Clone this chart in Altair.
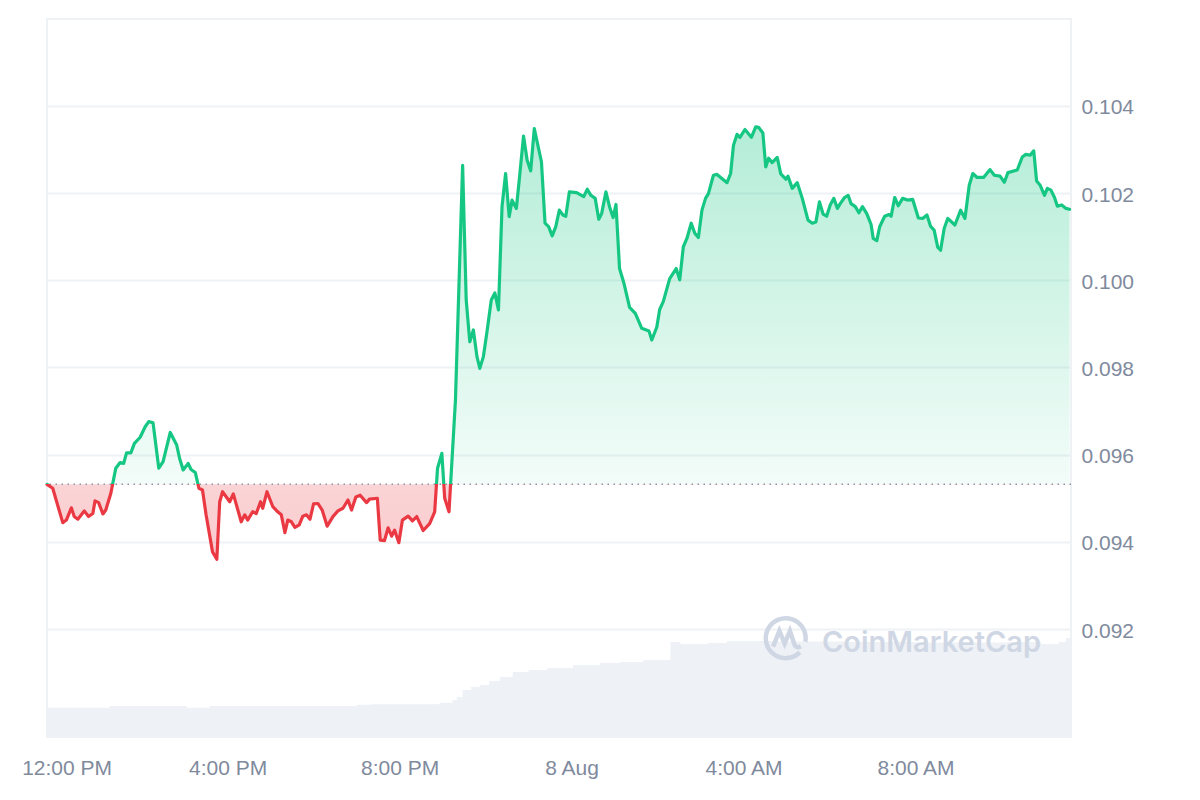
import altair as alt
import pandas as pd

# ---------------- data ----------------
BASELINE = 0.09532  # price at the start of the window (dotted reference line)

# minutes relative to 7 Aug 12:00 PM
minutes = [
    -12, -4, 10, 15, 22, 26, 31, 40, 46, 52,
    55, 60, 66, 70, 77, 84, 90, 95, 99, 105,
    110, 118, 125, 130, 136, 144, 150, 160, 169, 173,
    178, 185, 189, 195, 200, 205, 210, 219, 225, 229,
    233, 243, 248, 259, 264, 268, 275, 280, 286, 289,
    295, 303, 310, 315, 320, 324, 329, 334, 340, 345,
    350, 355, 360, 366, 372, 379, 387, 394, 401, 408,
    413, 419, 425, 434, 438, 449, 453, 459, 464, 469,
    473, 479, 484, 492, 498, 504, 513, 522, 529, 533,
    539, 543, 549, 558, 568, 573, 578, 583, 588, 592,
    597, 602, 608, 613, 618, 623, 628, 633, 637, 643,
    647, 653, 658, 663, 668, 678, 683, 688, 693, 698,
    703, 708, 712, 717, 727, 737, 742, 747, 753, 758,
    762, 768, 773, 778, 782, 787, 793, 801, 809, 818,
    828, 832, 839, 843, 848, 857, 866, 871, 876, 881,
    887, 892, 897, 902, 907, 911, 918, 923, 937, 942,
    946, 951, 955, 962, 971, 977, 981, 987, 991, 995,
    1000, 1007, 1012, 1019, 1022, 1028, 1035, 1042, 1050, 1056,
    1061, 1066, 1071, 1076, 1081, 1086, 1091, 1095, 1101, 1106,
    1110, 1116, 1121, 1126, 1132, 1138, 1141, 1146, 1150, 1157,
    1163, 1166, 1171, 1176, 1182, 1189, 1196, 1204, 1210, 1216,
    1221, 1226, 1231, 1235, 1240, 1245, 1255, 1263, 1269, 1275,
    1280, 1286, 1295, 1304, 1310, 1318, 1324, 1329, 1342, 1349,
    1354, 1360, 1365, 1369, 1374, 1380, 1384, 1389, 1394, 1398,
    1404, 1410, 1415,
]

prices = [
    0.09532, 0.09523, 0.09444, 0.09450, 0.09478, 0.09458, 0.09452, 0.09471, 0.09458, 0.09465,
    0.09494, 0.09490, 0.09464, 0.09473, 0.09511, 0.09569, 0.09582, 0.09580, 0.09604, 0.09604,
    0.09626, 0.09640, 0.09664, 0.09676, 0.09673, 0.09569, 0.09584, 0.09651, 0.09622, 0.09592,
    0.09565, 0.09580, 0.09566, 0.09559, 0.09523, 0.09519, 0.09462, 0.09377, 0.09360, 0.09492,
    0.09515, 0.09492, 0.09510, 0.09446, 0.09462, 0.09450, 0.09469, 0.09465, 0.09492, 0.09477,
    0.09515, 0.09481, 0.09469, 0.09462, 0.09421, 0.09450, 0.09446, 0.09433, 0.09439, 0.09459,
    0.09462, 0.09452, 0.09487, 0.09488, 0.09473, 0.09436, 0.09458, 0.09471, 0.09477, 0.09496,
    0.09473, 0.09503, 0.09507, 0.09490, 0.09498, 0.09500, 0.09404, 0.09403, 0.09432, 0.09413,
    0.09427, 0.09398, 0.09450, 0.09459, 0.09448, 0.09458, 0.09426, 0.09442, 0.09469, 0.09569,
    0.09603, 0.09500, 0.09469, 0.09725, 0.10264, 0.09955, 0.09859, 0.09886, 0.09825, 0.09798,
    0.09825, 0.09882, 0.09955, 0.09971, 0.09932, 0.10169, 0.10245, 0.10146, 0.10184, 0.10165,
    0.10230, 0.10331, 0.10276, 0.10251, 0.10348, 0.10272, 0.10131, 0.10123, 0.10102, 0.10123,
    0.10161, 0.10150, 0.10147, 0.10203, 0.10201, 0.10192, 0.10209, 0.10195, 0.10188, 0.10140,
    0.10153, 0.10203, 0.10169, 0.10144, 0.10174, 0.10027, 0.09994, 0.09938, 0.09924, 0.09890,
    0.09884, 0.09863, 0.09893, 0.09933, 0.09951, 0.10004, 0.10027, 0.10001, 0.10077, 0.10096,
    0.10131, 0.10108, 0.10098, 0.10161, 0.10188, 0.10199, 0.10241, 0.10243, 0.10224, 0.10245,
    0.10310, 0.10335, 0.10328, 0.10346, 0.10328, 0.10352, 0.10351, 0.10338, 0.10260, 0.10280,
    0.10270, 0.10282, 0.10244, 0.10232, 0.10239, 0.10211, 0.10224, 0.10188, 0.10138, 0.10131,
    0.10134, 0.10180, 0.10152, 0.10147, 0.10173, 0.10188, 0.10165, 0.10176, 0.10190, 0.10195,
    0.10176, 0.10169, 0.10155, 0.10169, 0.10153, 0.10128, 0.10096, 0.10091, 0.10123, 0.10147,
    0.10151, 0.10147, 0.10190, 0.10171, 0.10188, 0.10184, 0.10186, 0.10143, 0.10142, 0.10150,
    0.10124, 0.10115, 0.10076, 0.10069, 0.10119, 0.10142, 0.10127, 0.10161, 0.10142, 0.10218,
    0.10245, 0.10236, 0.10236, 0.10254, 0.10241, 0.10239, 0.10225, 0.10247, 0.10253, 0.10283,
    0.10289, 0.10287, 0.10297, 0.10228, 0.10218, 0.10195, 0.10211, 0.10207, 0.10190, 0.10170,
    0.10173, 0.10165, 0.10163,
]

# volume levels (arbitrary units, millions) at step breakpoints
vol_minutes = [-12, 75, 183, 215, 420, 440, 536, 554, 560, 568, 580, 592, 605, 620, 638,
               660, 686, 722, 760, 788, 820, 858, 872, 910, 937, 1000, 1100, 1200, 1330,
               1375, 1400, 1410, 1417]
vol_values = [2.93, 3.10, 2.93, 3.10, 3.23, 3.27, 3.43, 3.70, 4.00, 4.70, 5.00, 5.20, 5.60,
              6.00, 6.50, 6.70, 6.90, 7.20, 7.40, 7.50, 7.70, 9.50, 9.30, 9.40, 9.60, 9.55,
              9.50, 9.45, 9.50, 9.30, 9.50, 9.90, 10.00]

x_tick_minutes = [0, 240, 480, 720, 960, 1200]
y_ticks = [0.092, 0.094, 0.096, 0.098, 0.100, 0.102, 0.104]
watermark = ["CoinMarketCap"]

# ---------------- tables ----------------
T0 = pd.Timestamp("2024-08-07 12:00:00")
price_df = pd.DataFrame({"time": T0 + pd.to_timedelta(minutes, unit="m"), "price": prices})
price_df["base"] = BASELINE
vol_df = pd.DataFrame({"time": T0 + pd.to_timedelta(vol_minutes, unit="m"), "volume": vol_values})
rule_df = pd.DataFrame({"base": [BASELINE]})
wm_df = pd.DataFrame({"label": watermark})


def dt(m):
    ts = T0 + pd.Timedelta(minutes=m)
    return alt.DateTime(year=ts.year, month=ts.month, date=ts.day, hours=ts.hour, minutes=ts.minute)


GREEN = "#16C784"
RED = "#EA3943"
LABEL = "#808A9D"
GRID = "#EFF2F5"
FONT = "Liberation Sans"

pmax, pmin = max(prices), min(prices)
t = (pmax - BASELINE) / (pmax - pmin)

line_grad = alt.Gradient(
    gradient="linear", x1=0, x2=0, y1=0, y2=1,
    stops=[alt.GradientStop(color=GREEN, offset=0), alt.GradientStop(color=GREEN, offset=t),
           alt.GradientStop(color=RED, offset=t), alt.GradientStop(color=RED, offset=1)],
)
area_grad = alt.Gradient(
    gradient="linear", x1=0, x2=0, y1=0, y2=1,
    stops=[alt.GradientStop(color="rgba(22,199,132,0.32)", offset=0),
           alt.GradientStop(color="rgba(22,199,132,0.05)", offset=t),
           alt.GradientStop(color="rgba(234,57,67,0.22)", offset=t),
           alt.GradientStop(color="rgba(234,57,67,0.26)", offset=1)],
)

x_axis = alt.Axis(
    values=[dt(m) for m in x_tick_minutes],
    labelExpr="hours(datum.value) == 0 ? timeFormat(datum.value, '%-d %b') : timeFormat(datum.value, '%-I:%M %p')",
    labelFontSize=21, labelColor=LABEL, labelFont=FONT, labelPadding=20,
    labelFlush=False, domain=False, ticks=False, grid=False, title=None,
    labelOffset={"condition": {"test": "hours(datum.value) == 12", "value": 11}, "value": 0},
)
X = alt.X("time:T", scale=alt.Scale(domain=[dt(-12), dt(1417)], nice=False), axis=x_axis)

y_scale = alt.Scale(domain=[0.089523, 0.105995], nice=False, zero=False)
y_axis = alt.Axis(
    orient="right", values=y_ticks, format=".3f", labelFontSize=21, labelColor=LABEL,
    labelFont=FONT, labelPadding=10, labelOffset=2, domain=False, ticks=False, tickSize=0,
    grid=True, gridColor=GRID, gridWidth=2, title=None,
)

volume = alt.Chart(vol_df).mark_area(interpolate="step-after", color="#EEF1F5").encode(
    x=X, y=alt.Y("volume:Q", scale=alt.Scale(domain=[0, 71.8], nice=False), axis=None)
)

logo_path = ("M 0.67 0.67 A 0.95 0.95 0 1 1 0.936 0.165 "
             "M -0.6 0.4 L -0.3 -0.35 L -0.05 0.25 L 0.2 -0.35 L 0.42 0.3 Q 0.5 0.5 0.72 0.38")
logo = alt.Chart(wm_df).mark_point(
    shape=logo_path, size=1764, filled=False, stroke="#CFD6E4", strokeWidth=4.5, opacity=1
).encode(x=alt.value(738.7), y=alt.value(619.3))
wm_text = alt.Chart(wm_df).mark_text(
    align="left", baseline="alphabetic", font="Inter", fontSize=29, fontWeight=600, color="#CFD6E4"
).encode(x=alt.value(775), y=alt.value(632.7), text="label:N")

Y = alt.Y("price:Q", scale=y_scale, axis=y_axis)
area = alt.Chart(price_df).mark_area(fill=area_grad).encode(x=X, y=Y, y2="base:Q")
rule = alt.Chart(rule_df).mark_rule(color="#8D94A3", strokeWidth=1.5, strokeDash=[1.5, 4.5]).encode(
    y=alt.Y("base:Q", scale=y_scale, axis=y_axis)
)
line = alt.Chart(price_df).mark_line(
    stroke=line_grad, strokeWidth=3.2, strokeJoin="round", strokeCap="round"
).encode(x=X, y=Y)

price_layer = alt.layer(area, rule, line)

chart = alt.layer(volume, logo, wm_text, price_layer).resolve_scale(y="independent").properties(
    width=1024, height=718,
    autosize=alt.AutoSizeParams(type="none"),
    padding={"left": 39, "top": 11, "right": 121, "bottom": 55},
    background="white",
).configure_view(stroke=GRID, strokeWidth=2)

chart.save("out.html", embed_options={"renderer": "svg", "actions": False})
